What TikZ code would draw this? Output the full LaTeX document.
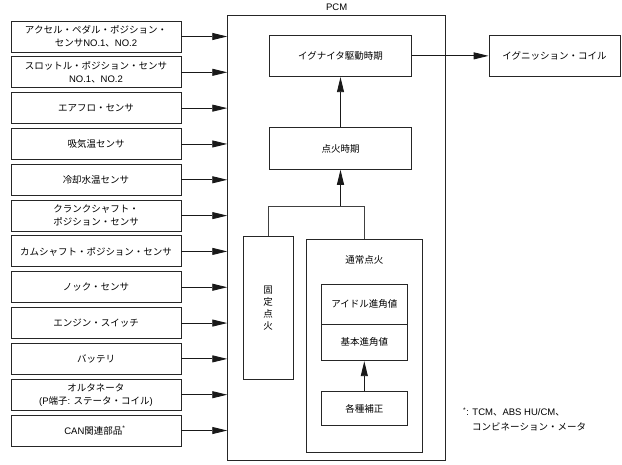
\documentclass[tikz,border=0pt]{standalone}
\usepackage{fontspec}
\setmainfont{Noto Sans CJK JP}
\newfontfamily\lat{Liberation Sans}
\usetikzlibrary{arrows.meta}
\tikzset{
  box/.style={draw=black!85, line width=0.9pt, inner sep=0pt, align=center,
    font=\fontsize{9.5}{13}\selectfont},
  lbox/.style={box, minimum width=170pt, minimum height=31pt},
  arr/.style={draw=black!90, line width=0.9pt, -{Triangle[length=15pt,width=7pt]}},
  ln/.style={draw=black!75, line width=0.9pt},
  txt/.style={inner sep=0pt, font=\fontsize{9.5}{13}\selectfont}
}
\begin{document}
\begin{tikzpicture}[x=1pt,y=-1pt]
\useasboundingbox (0,0) rectangle (622,464);
% PCM
\node[box, minimum width=218pt, minimum height=445.7pt] (pcm) at (336.7,237.85) {};
\node[txt] (pcmlabel) at (336.7,7.5) {\lat PCM};
% inputs
\foreach \t [count=\i] in {
  {アクセル・ペダル・ポジション・\\センサ{\lat NO.1}、{\lat NO.2}},
  {スロットル・ポジション・センサ\\{\lat NO.1}、{\lat NO.2}},
  {エアフロ・センサ},
  {吸気温センサ},
  {冷却水温センサ},
  {クランクシャフト・\\ポジション・センサ},
  {カムシャフト・ポジション・センサ},
  {ノック・センサ},
  {エンジン・スイッチ},
  {バッテリ},
  {オルタネータ\\{\lat (P}端子{\lat : }ステータ・コイル{\lat )}},
  {{\lat CAN}関連部品{\lat\textsuperscript{*}}}
}{
  \node[lbox] (s\i) at (96,{36.5+(\i-1)*35.82}) {\t};
  \draw[arr] (s\i.east) -- (s\i.east -| pcm.west);
}
% inside PCM
\node[box, minimum width=142.4pt, minimum height=41.7pt] (ign) at (340.5,55.85) {イグナイタ駆動時期};
\node[box, minimum width=131pt, minimum height=41.7pt] (coil) at (554.5,55.85) {イグニッション・コイル};
\node[box, minimum width=142.4pt, minimum height=41.6pt] (tenka) at (340.5,148.5) {点火時期};
\node[box, minimum width=50.3pt, minimum height=142.3pt, font=\fontsize{9.5}{12}\selectfont] (kotei) at (268.2,307.85) {固\\定\\点\\火};
\node[box, minimum width=116pt, minimum height=213pt] (tsujo) at (364.3,345.8) {};
\node[txt] (tsujolabel) at (364.3,260) {通常点火};
\node[box, minimum width=86pt, minimum height=39.7pt] (idle) at (364.3,304.15) {アイドル進角値};
\node[box, minimum width=86pt, minimum height=36.7pt] (kihon) at (364.3,342.35) {基本進角値};
\node[box, minimum width=86pt, minimum height=34pt] (kakushu) at (364.3,408.7) {各種補正};
\coordinate (j) at (340.5,206.7);
% connectors
\draw[arr] (ign.east) -- (coil.west);
\draw[arr] (tenka.north) -- (ign.south);
\draw[arr] (j) -- (tenka.south);
\draw[ln] (kotei.north) |- (j) -| (tsujo.north);
\draw[arr] (kakushu.north) -- (kihon.south);
% footnote
\node[txt, anchor=west] (fn1) at (463,412) {{\lat\textsuperscript{*}: TCM}、{\lat ABS HU/CM}、};
\node[txt, anchor=west] (fn2) at (472,427) {コンビネーション・メータ};
\end{tikzpicture}
\end{document}
